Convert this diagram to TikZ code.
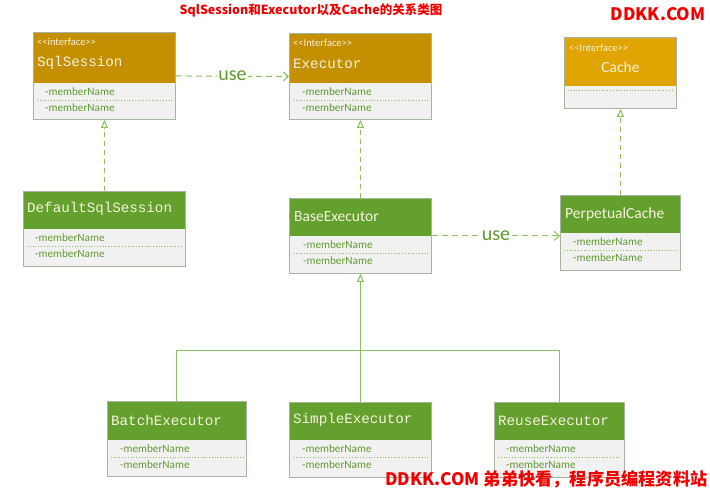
\documentclass[tikz,border=0pt]{standalone}
\usepackage{fontspec}
\setmainfont{Carlito}
\newfontfamily\monof{Liberation Mono}
\newfontfamily\cjkf{Noto Sans CJK SC}
\usetikzlibrary{arrows.meta}
\definecolor{gold}{HTML}{C48F00}
\definecolor{goldlt}{HTML}{E0A500}
\definecolor{hgreen}{HTML}{64A02D}
\definecolor{memberbg}{HTML}{F1F1F1}
\definecolor{membertxt}{HTML}{5F9A30}
\definecolor{linec}{HTML}{8CC05C}
\definecolor{bordc}{HTML}{A9B49E}
\definecolor{headtxt}{HTML}{F7F2DF}
\definecolor{redt}{HTML}{F00000}
\newcommand\lt{{<}}
\newcommand\gtt{{>}}
\tikzset{
  box/.style={draw=bordc, line width=0.9pt, fill=memberbg, inner sep=0pt},
  mtext/.style={anchor=west, inner sep=0pt, text=membertxt, font=\fontsize{11.2}{13}\selectfont},
  stereo/.style={anchor=west, inner sep=0pt, text=headtxt, font=\fontsize{10.5}{11}\selectfont},
  mname/.style={anchor=west, inner sep=0pt, text=headtxt, font=\monof\fontsize{14.2}{16}\selectfont},
  cname/.style={anchor=west, inner sep=0pt, text=headtxt, font=\fontsize{15.5}{17}\selectfont},
  sepline/.style={draw=linec, dotted, line width=0.8pt},
  realize/.style={draw=linec, line width=1pt, dash pattern=on 5pt off 4pt, -{Triangle[open, length=8pt, width=7pt, fill=white]}},
  usearrow/.style={draw=linec, line width=1pt, dash pattern=on 6pt off 4pt, -{Straight Barb[length=5pt, width=9pt]}},
  uselabel/.style={fill=white, inner sep=1pt, text=membertxt, font=\fontsize{20}{21}\selectfont},
  inherit/.style={draw=linec, line width=1pt},
  titletext/.style={inner sep=0pt, text=redt, font=\cjkf\bfseries\fontsize{12.5}{14}\selectfont},
  redmark/.style={inner sep=0pt, text=redt, font=\cjkf\bfseries\fontsize{17.2}{19}\selectfont}
}
% name, x, y, w, header h, total h, header colour
\newcommand\classbox[7]{%
  \node[box, minimum width=#4pt, minimum height=#6pt, anchor=north west] (#1) at (#2,#3) {};
  \fill[#7] (#1.north west) rectangle ([yshift=-#5pt]#1.north east);
  \draw[draw=bordc, line width=0.9pt] (#1.north west) rectangle (#1.south east);
}
% name, header h, x offset of text
\newcommand\membs[3]{%
  \node[mtext] at ([xshift=#3pt, yshift=-#2pt-9pt]#1.north west) {-memberName};
  \draw[sepline] ([xshift=4pt, yshift=-#2pt-17pt]#1.north west) -- ([xshift=-4pt, yshift=-#2pt-17pt]#1.north east);
  \node[mtext] at ([xshift=#3pt, yshift=-#2pt-25pt]#1.north west) {-memberName};
}
\begin{document}
\begin{tikzpicture}[x=1pt, y=-1pt]
\useasboundingbox[fill=white] (0,0) rectangle (710,489);

% title and marks
\node[titletext] (ttl) at (311,10) {SqlSession和Executor以及Cache的关系类图};
\node[redmark] (mk1) at (658,14) {DDKK.COM};

% interfaces
\classbox{sqls}{33}{32}{142}{51}{87}{gold}
\node[stereo] at ([xshift=4pt, yshift=-10pt]sqls.north west) {\lt\lt interface\gtt\gtt};
\node[mname] at ([xshift=4pt, yshift=-31pt]sqls.north west) {SqlSession};
\membs{sqls}{51}{12}

\classbox{exec}{289}{33}{142}{50}{86}{gold}
\node[stereo] at ([xshift=4pt, yshift=-10pt]exec.north west) {\lt\lt Interface\gtt\gtt};
\node[mname] at ([xshift=4pt, yshift=-31pt]exec.north west) {Executor};
\membs{exec}{50}{13}

\classbox{cache}{564}{37}{112}{49}{71}{goldlt}
\node[stereo] at ([xshift=5pt, yshift=-11pt]cache.north west) {\lt\lt Interface\gtt\gtt};
\node[cname, anchor=center] at ([yshift=-30pt]cache.north) {Cache};
\draw[sepline] ([xshift=4pt, yshift=-53pt]cache.north west) -- ([xshift=-4pt, yshift=-53pt]cache.north east);

% middle row
\classbox{defs}{23}{191}{162}{38}{75}{hgreen}
\node[mname] at ([xshift=4pt, yshift=-18pt]defs.north west) {DefaultSqlSession};
\membs{defs}{38}{12}

\classbox{base}{289}{198}{142}{38}{75}{hgreen}
\node[cname] at ([xshift=5pt, yshift=-19pt]base.north west) {BaseExecutor};
\membs{base}{38}{14}

\classbox{perp}{560}{195}{120}{38}{75}{hgreen}
\node[cname] at ([xshift=5pt, yshift=-19pt]perp.north west) {PerpetualCache};
\membs{perp}{38}{13}

% bottom row
\classbox{batch}{107}{401}{139}{39}{75}{hgreen}
\node[mname] at ([xshift=4pt, yshift=-19pt]batch.north west) {BatchExecutor};
\membs{batch}{39}{13}

\classbox{simple}{289}{402}{142}{38}{75}{hgreen}
\node[mname] at ([xshift=4pt, yshift=-18pt]simple.north west) {SimpleExecutor};
\membs{simple}{38}{13}

\classbox{reuse}{494}{402}{130}{38}{75}{hgreen}
\node[mname] at ([xshift=4pt, yshift=-19pt]reuse.north west) {ReuseExecutor};
\membs{reuse}{38}{12}

% connectors
\draw[usearrow] (sqls.east) -- node[uselabel] {use} (exec.west);
\draw[usearrow] (base.east) -- node[uselabel] {use} (base.east -| perp.west);
\draw[realize] (defs.north) -- (sqls.south);
\draw[realize] (base.north) -- (exec.south);
\draw[realize] (perp.north) -- (cache.south);

\coordinate (jn) at (360,350);
\draw[inherit] (batch.north) |- (jn);
\draw[inherit] (reuse.north) |- (jn);
\draw[inherit, -{Triangle[open, length=8pt, width=7pt, fill=white]}] (simple.north) -- (base.south);

\node[redmark, anchor=west] (mk2) at (385,479) {DDKK.COM 弟弟快看，程序员编程资料站};
\end{tikzpicture}
\end{document}
